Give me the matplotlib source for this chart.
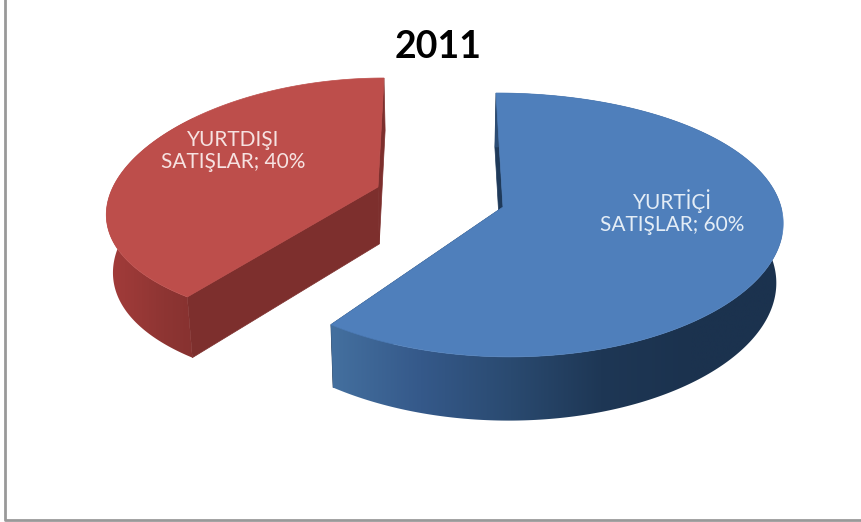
import numpy as np
import matplotlib
matplotlib.use('Agg')
import matplotlib.pyplot as plt
from matplotlib.colors import LinearSegmentedColormap
from matplotlib.patches import Polygon

plt.rcParams['font.family'] = ['Lato', 'DejaVu Sans']

title = '2011'
names = ['YURTİÇİ\nSATIŞLAR', 'YURTDIŞI\nSATIŞLAR']
shares = [60, 40]


# pie seen from above: angle runs clockwise from 12 o'clock
def project(theta, cx, cy, a, b, k, kx, s):
    u = np.sin(theta)
    v = -np.cos(theta)
    return cx + a * u / (1 - kx * v) + s * v, cy + b * v / (1 - k * v)


def wall_depth(theta, d0):
    return d0 * (1 - 0.08 * np.cos(theta))


# lower rim of a wall pulls in a little towards the middle of the view
def lower_x(x):
    return x + (440 - x) * 0.02


def draw_slice(ax, start, end, geo, d0, top_col, flat_col, wall_cmap, xr):
    th = np.linspace(start, end, 300)
    x, y = project(th, *geo)
    cx, cy = geo[0], geo[1]
    d = wall_depth(th, d0)

    # flat cut walls first
    for t in (start, end):
        px, py = project(t, *geo)
        dd = wall_depth(t, d0)
        ax.add_patch(Polygon([(cx, cy), (px, py), (lower_x(px), py + dd), (lower_x(cx), cy + d0)],
                             fc=flat_col, ec=flat_col, lw=0.5, zorder=2))

    # outer wall: horizontal gradient clipped to the wall shape
    wall = Polygon(np.column_stack([np.r_[x, lower_x(x)[::-1]], np.r_[y, (y + d)[::-1]]]),
                   fc='none', ec='none', transform=ax.transData)
    ax.add_patch(wall)
    grad = np.linspace(0, 1, 256).reshape(1, -1)
    im = ax.imshow(grad, cmap=wall_cmap, extent=(xr[0], xr[1], y.max() + d.max() + 2, y.min() - 2),
                   aspect='auto', zorder=3, interpolation='bilinear')
    im.set_clip_path(wall)

    ax.add_patch(Polygon(np.column_stack([np.r_[cx, x], np.r_[cy, y]]),
                         fc=top_col, ec=top_col, lw=0.5, zorder=4))


blue_wall = LinearSegmentedColormap.from_list(
    'bw', ['#44709f', '#35598a', '#2a4a70', '#1e3755', '#1b324e', '#1b324e'])
red_wall = LinearSegmentedColormap.from_list(
    'rw', ['#a33c3a', '#9a3937', '#8e3533', '#873230'])

fig = plt.figure(figsize=(8.62, 5.22), dpi=100)
ax = fig.add_axes([0, 0, 1, 1])

angles = np.cumsum([0] + shares) / sum(shares) * 2 * np.pi

draw_slice(ax, angles[0], angles[1], (503, 207, 278, 129.5, 0.136, 0.1, 7), 59,
           '#4f7fbb', '#1f3a5a', blue_wall, (330, 782))
draw_slice(ax, angles[1], angles[2], (378, 187, 265, 122.4, 0.123, 0.2, -6), 57,
           '#bd4e4b', '#7d2f2d', red_wall, (105, 193))

ax.set_xlim(0, 862)
ax.set_ylim(522, 0)
ax.axis('off')

ax.text(438, 47, title, ha='center', va='center', fontsize=27, fontweight='bold', color='black')

ax.text(672, 212, names[0] + '; %d%%' % shares[0], ha='center', va='center', fontsize=15,
        color='#e4edf6', linespacing=1.12, zorder=6)
ax.text(233, 151, names[1] + '; %d%%' % shares[1], ha='center', va='center', fontsize=15,
        color='#f6e2e1', linespacing=1.12, zorder=6)

# chart area border, only left and bottom show in the picture
ax.plot([5, 5, 862], [0, 520, 520], color='#999999', lw=2, zorder=1)

fig.savefig('out.png', dpi=100)
